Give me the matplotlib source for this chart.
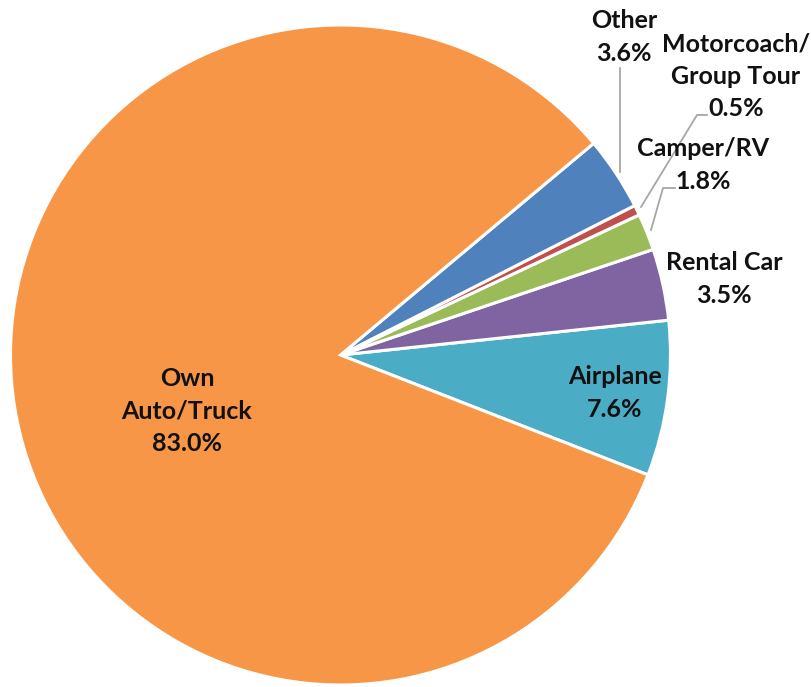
import matplotlib
matplotlib.use("Agg")
import matplotlib.pyplot as plt

categories = ["Airplane", "Rental Car", "Camper/RV", "Motorcoach/\nGroup Tour", "Other", "Own\nAuto/Truck"]
values = [7.6, 3.5, 1.8, 0.5, 3.6, 83.0]
colors = ["#4BACC6", "#8064A2", "#9BBB59", "#C0504D", "#4F81BD", "#F79646"]

W, H = 811, 687
fig = plt.figure(figsize=(W / 100, H / 100), dpi=100)
ax = fig.add_axes([0, 0, 1, 1])

cx, cy, r = 340.5, H - 355, 330
ax.pie(values, colors=colors, startangle=-21.3, counterclock=True,
       center=(cx, cy), radius=r,
       wedgeprops=dict(edgecolor="white", linewidth=2.2), frame=True)
ax.set_xlim(0, W)
ax.set_ylim(0, H)
ax.set_aspect("equal")
ax.axis("off")

font = dict(family=["Lato", "DejaVu Sans"], fontweight="bold", fontsize=18,
            color="#111111", ha="center", va="center", linespacing=1.48)

# label positions in pixel coordinates (top-left origin)
label_pos = [(615, 393), (724, 279), (703, 165), (736, 76), (624, 37), (187, 411)]
for cat, val, (px, py) in zip(categories, values, label_pos):
    ax.text(px, H - py, f"{cat}\n{val:.1f}%", **font)

# leader lines
lc = "#A6A6A6"
ax.plot([620, 620], [H - 68, H - 172], color=lc, lw=1.3)
ax.plot([707, 697, 641], [H - 115, H - 115, H - 207], color=lc, lw=1.3)
ax.plot([675, 663, 651], [H - 188, H - 188, H - 230], color=lc, lw=1.3)

fig.savefig("out.png", dpi=100, facecolor="white")
